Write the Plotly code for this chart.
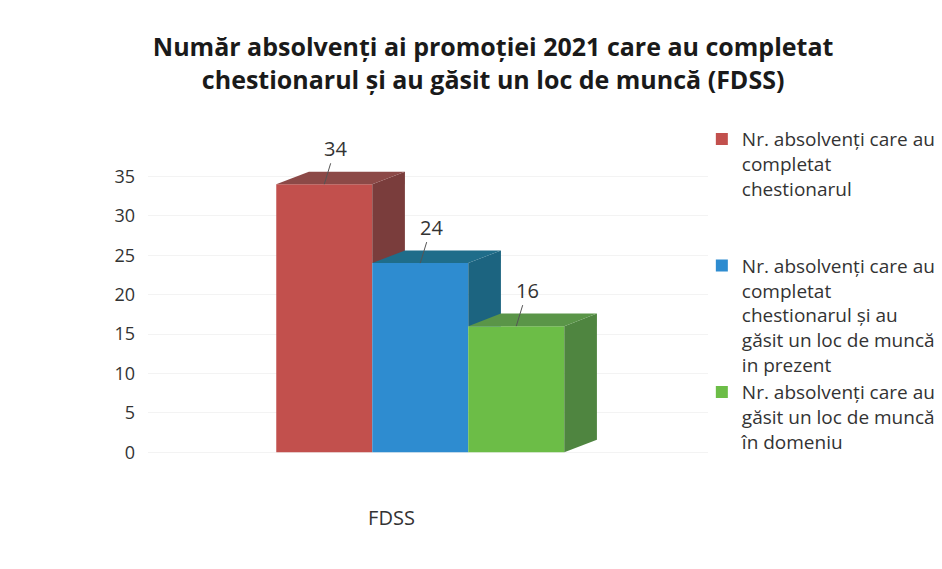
import plotly.graph_objects as go

# ---- data ----
categories = ["FDSS"]
series_names = [
    "Nr. absolvenți care au<br>completat<br>chestionarul<br> <br> ",
    "Nr. absolvenți care au<br>completat<br>chestionarul și au<br>găsit un loc de muncă<br>in prezent",
    "Nr. absolvenți care au<br>găsit un loc de muncă<br>în domeniu",
]
values = [34, 24, 16]
y_ticks = [0, 5, 10, 15, 20, 25, 30, 35]

# ---- styles ----
front_colors = ["#C2504D", "#2E8CD0", "#6CBD47"]
top_colors = ["#8C4947", "#1F6D8A", "#5A9548"]
side_colors = ["#7A3D3C", "#1C6480", "#4F8540"]
title_text = ("<b>Număr absolvenți ai promoției 2021 care au completat<br>"
              "chestionarul și au găsit un loc de muncă (FDSS)</b>")

dx = 0.34   # depth offset (x units)
dy = 1.6    # depth offset (y units)
half = 0.5

fig = go.Figure()

n = len(values)
for i, (name, v) in enumerate(zip(series_names, values)):
    x0, x1 = i - half, i + half
    nxt = values[i + 1] if i + 1 < n else 0
    # side face (only the part not hidden by the next bar)
    fig.add_trace(go.Scatter(
        x=[x1, x1 + dx, x1 + dx, x1, x1],
        y=[nxt, nxt + (dy if nxt == 0 else 0), v + dy, v, nxt],
        fill="toself", fillcolor=side_colors[i], mode="lines",
        line=dict(width=0, color=side_colors[i]),
        showlegend=False, hoverinfo="skip"))
    # top face
    fig.add_trace(go.Scatter(
        x=[x0, x1, x1 + dx, x0 + dx, x0],
        y=[v, v, v + dy, v + dy, v],
        fill="toself", fillcolor=top_colors[i], mode="lines",
        line=dict(width=0, color=top_colors[i]),
        showlegend=False, hoverinfo="skip"))
    # front face (the bar itself)
    fig.add_trace(go.Bar(
        x=[i], y=[v], width=1.0, name=name,
        marker=dict(color=front_colors[i], line=dict(width=0)),
        hovertemplate=f"{categories[0]}: %{{y}}<extra></extra>"))
    fig.add_annotation(
        x=i, y=v, text=str(v), showarrow=True, arrowhead=0,
        arrowwidth=1, arrowcolor="#555555", ax=11, ay=-36,
        font=dict(family="Open Sans", size=20, color="#333333"))

fig.update_layout(
    width=942, height=569,
    margin=dict(l=140, r=242, t=129, b=109, autoexpand=False),
    paper_bgcolor="white", plot_bgcolor="white",
    barmode="overlay",
    title=dict(text=title_text, x=0.515, xref="container", xanchor="center",
               y=0.915, yanchor="top",
               font=dict(family="Open Sans", size=25, color="#1a1a1a")),
    legend=dict(x=0.989, xanchor="left", y=1.051, yanchor="top",
                valign="top", traceorder="normal", maxheight=440,
                font=dict(family="Open Sans", size=19, color="#333333"),
                bgcolor="rgba(0,0,0,0)", itemclick=False),
    font=dict(family="Open Sans", color="#333333"),
)
fig.update_yaxes(range=[-2, 40], tickvals=y_ticks, showline=False,
                 zeroline=False, gridcolor="#F3F3F3", ticks="",
                 ticklabelstandoff=12,
                 tickfont=dict(size=18, color="#333333"))
fig.update_xaxes(range=[-1.836, 3.997], tickvals=[0.7], ticktext=categories,
                 showgrid=False, zeroline=False, showline=False, ticks="",
                 ticklabelstandoff=36,
                 tickfont=dict(size=20, color="#333333"))

fig.write_html("out.html")
